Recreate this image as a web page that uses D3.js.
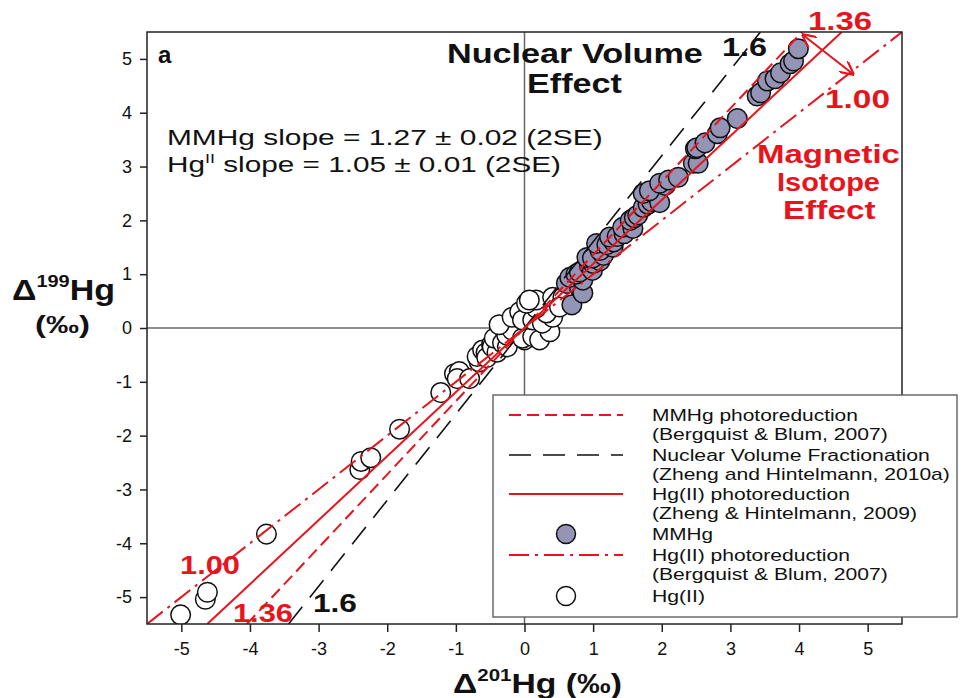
<!DOCTYPE html>
<html><head><meta charset="utf-8">
<script src="https://cdn.jsdelivr.net/npm/d3@7"></script>
<style>body{margin:0;background:#fff;} text{font-family:"Liberation Sans",Arial,sans-serif;}</style>
</head><body>
<svg id="chart" width="961" height="698"></svg>
<script>
// ---- data ----
const xTicks = [-5,-4,-3,-2,-1,0,1,2,3,4,5];
const yTicks = [-5,-4,-3,-2,-1,0,1,2,3,4,5];
const mmhgPoints = [
 [0.69,0.43],[0.61,0.83],[0.70,0.94],[0.80,0.76],[0.85,0.65],[0.66,0.94],[0.85,0.89],[0.75,1.00],
 [0.80,1.04],[0.95,1.15],[0.99,1.07],[1.00,1.20],[1.10,1.25],[0.91,1.31],[0.99,1.30],[1.15,1.35],
 [1.10,1.44],[1.05,1.57],[1.29,1.50],[1.20,1.55],[1.30,1.60],[1.24,1.69],[1.35,1.70],[1.45,1.75],
 [1.43,1.87],[1.58,1.85],[1.54,2.00],[1.60,2.05],[1.65,2.10],[1.73,2.24],[1.80,2.30],[1.85,2.35],
 [1.97,2.33],[1.73,2.50],[1.82,2.55],[2.05,2.65],[1.97,2.69],[2.10,2.75],[2.24,2.80],[2.46,3.06],
 [2.53,3.06],[2.49,3.33],[2.51,3.35],[2.63,3.44],[2.81,3.61],[2.85,3.72],[3.10,3.89],[3.39,4.31],
 [3.44,4.37],[3.54,4.59],[3.65,4.63],[3.73,4.74],[3.87,4.91],[3.92,4.96],[3.99,5.19]
];
const hg2Points = [
 [-5.01,-5.33],[-4.65,-5.04],[-4.62,-4.91],[-3.76,-3.83],[-2.40,-2.63],[-2.38,-2.48],[-2.24,-2.41],
 [-1.82,-1.88],[-1.22,-1.20],[-1.02,-0.85],[-0.95,-0.81],[-0.98,-0.94],[-0.80,-0.94],[-0.66,-0.63],
 [-0.69,-0.53],[-0.61,-0.41],[-0.56,-0.46],[-0.55,-0.55],[-0.48,-0.31],[-0.47,-0.35],[-0.40,-0.45],
 [-0.44,-0.19],[-0.32,-0.28],[-0.25,-0.35],[-0.26,-0.13],[-0.18,-0.04],[0.00,-0.22],[-0.03,-0.19],
 [0.12,-0.16],[0.22,-0.22],[0.37,-0.07],[-0.37,0.06],[-0.18,0.20],[-0.07,0.30],[-0.03,0.15],
 [0.12,0.15],[0.26,0.09],[0.41,0.20],[0.32,0.28],[0.17,0.37],[0.03,0.46],[0.17,0.52],[0.07,0.52],
 [0.41,0.57],[0.56,0.57],[0.51,0.39]
];
const lineNames = ["MMHg photoreduction","Nuclear Volume Fractionation","Hg(II) photoreduction Z&H","Hg(II) photoreduction B&B"];
const lineSlopes = [1.36, 1.6, 1.19, 1.00];
const lineColors = ["#e8141c","#111111","#e8141c","#e8141c"];
const lineDashes = ["12,6","22,12",null,"20,6,3,6"];
const legendLabels = [
 ["MMHg photoreduction","(Bergquist & Blum, 2007)"],
 ["Nuclear Volume Fractionation","(Zheng and Hintelmann, 2010a)"],
 ["Hg(II) photoreduction","(Zheng & Hintelmann, 2009)"],
 ["MMHg"],
 ["Hg(II) photoreduction","(Bergquist & Blum, 2007)"],
 ["Hg(II)"]
];
const legendWidths = [[206,236],[278,298],[198,265],[61],[198,236],[53]];

// ---- chart ----
const svg = d3.select("#chart");
const L=147, R=902, T=32, B=624;
const x = d3.scaleLinear().domain([-5.5,5.5]).range([L,R]);
const y = d3.scaleLinear().domain([-5.5,5.5]).range([B,T]);
const mmhgFill = "#9394b6";
const RED = "#e8141c";

// stretch a text horizontally to a target width around a pivot x
function fit(t, target, pivot){
  const bb = t.node().getBBox();
  const k = target / bb.width;
  t.attr("transform",`translate(${pivot},0) scale(${k},1) translate(${-pivot},0)`);
  return t;
}

svg.append("clipPath").attr("id","clip").append("rect")
  .attr("x",L).attr("y",T).attr("width",R-L).attr("height",B-T);

// zero lines
svg.append("line").attr("x1",x(0)).attr("x2",x(0)).attr("y1",T).attr("y2",B).attr("stroke","#666").attr("stroke-width",1.5);
svg.append("line").attr("x1",L).attr("x2",R).attr("y1",y(0)).attr("y2",y(0)).attr("stroke","#666").attr("stroke-width",1.5);

const plot = svg.append("g").attr("clip-path","url(#clip)");

// points
plot.selectAll("circle.hg2").data(hg2Points).join("circle").attr("class","hg2")
  .attr("cx",d=>x(d[0])).attr("cy",d=>y(d[1])).attr("r",9.8)
  .attr("fill","#fff").attr("stroke","#111").attr("stroke-width",1.5);
plot.selectAll("circle.mm").data(mmhgPoints).join("circle").attr("class","mm")
  .attr("cx",d=>x(d[0])).attr("cy",d=>y(d[1])).attr("r",9.8)
  .attr("fill",mmhgFill).attr("stroke","#111").attr("stroke-width",1.5);

// reference lines through origin
lineSlopes.forEach((s,i)=>{
  const ln = plot.append("line")
    .attr("x1",x(-5.5/s)).attr("y1",y(-5.5)).attr("x2",x(5.5/s)).attr("y2",y(5.5))
    .attr("stroke",lineColors[i]).attr("stroke-width",i===1?1.6:2);
  if(lineDashes[i]) ln.attr("stroke-dasharray",lineDashes[i]);
});

// frame
svg.append("rect").attr("x",L).attr("y",T).attr("width",R-L).attr("height",B-T)
  .attr("fill","none").attr("stroke","#222").attr("stroke-width",1.5);

// axes
const yAxis = svg.append("g").attr("transform",`translate(${L},0)`)
  .call(d3.axisLeft(y).tickValues(yTicks).tickSize(7).tickPadding(8).tickFormat(d3.format("d")));
const xAxis = svg.append("g").attr("transform",`translate(0,${B})`)
  .call(d3.axisBottom(x).tickValues(xTicks).tickSize(8).tickPadding(10).tickFormat(d3.format("d")));
[yAxis,xAxis].forEach(a=>{
  a.select(".domain").remove();
  a.selectAll(".tick line").attr("stroke","#222").attr("stroke-width",1.5);
  a.selectAll("text").attr("font-size",18).attr("fill","#111")
   .style("font-family","Liberation Sans, Arial, sans-serif");
});
yAxis.selectAll("text").text(d=>d<0?"-"+Math.abs(d):d);
xAxis.selectAll("text").text(d=>d<0?"-"+Math.abs(d):d);

// axis titles
const yt = svg.append("text").attr("x",12).attr("y",300).attr("font-size",29).attr("font-weight","bold").attr("fill","#111");
yt.append("tspan").text("Δ");
yt.append("tspan").attr("dy",-13).attr("font-size",17).text("199");
yt.append("tspan").attr("dy",13).text("Hg");
fit(yt,103,12);
fit(svg.append("text").attr("x",35).attr("y",333).attr("font-size",23).attr("font-weight","bold").attr("fill","#111").text("(‰)"),55,35);
const xt = svg.append("text").attr("x",453).attr("y",693).attr("font-size",28).attr("font-weight","bold").attr("fill","#111");
xt.append("tspan").text("Δ");
xt.append("tspan").attr("dy",-12).attr("font-size",17).text("201");
xt.append("tspan").attr("dy",12).text("Hg (‰)");
fit(xt,169,453);

// annotations
svg.append("text").attr("x",158).attr("y",63).attr("font-size",24).attr("font-weight","bold").attr("fill","#111").text("a");
fit(svg.append("text").attr("x",447).attr("y",63).attr("font-size",27).attr("font-weight","bold").attr("fill","#111").text("Nuclear Volume"),256,447);
fit(svg.append("text").attr("x",527).attr("y",93).attr("font-size",27).attr("font-weight","bold").attr("fill","#111").text("Effect"),95,527);
fit(svg.append("text").attr("x",167).attr("y",145).attr("font-size",21.5).attr("fill","#111").text("MMHg slope = 1.27 ± 0.02 (2SE)"),436,167);
const hgt = svg.append("text").attr("x",167).attr("y",172).attr("font-size",21.5).attr("fill","#111");
hgt.append("tspan").text("Hg");
hgt.append("tspan").attr("dy",-9).attr("font-size",13).text("II");
hgt.append("tspan").attr("dy",9).text(" slope = 1.05 ± 0.01 (2SE)");
fit(hgt,394,167);

fit(svg.append("text").attr("x",722).attr("y",56).attr("font-size",25).attr("font-weight","bold").attr("fill","#111").text("1.6"),45,722);
fit(svg.append("text").attr("x",808).attr("y",30).attr("font-size",25).attr("font-weight","bold").attr("fill",RED).text("1.36"),64,808);
fit(svg.append("text").attr("x",825).attr("y",108).attr("font-size",25).attr("font-weight","bold").attr("fill",RED).text("1.00"),65,825);
[["Magnetic",757,143],["Isotope",777,103],["Effect",783,93]].forEach((m,i)=>{
  fit(svg.append("text").attr("x",m[1]).attr("y",163+i*28).attr("font-size",26).attr("font-weight","bold").attr("fill",RED).text(m[0]),m[2],m[1]);
});
fit(svg.append("text").attr("x",180).attr("y",574).attr("font-size",25).attr("font-weight","bold").attr("fill",RED).text("1.00"),60,180);
fit(svg.append("text").attr("x",233).attr("y",622).attr("font-size",25).attr("font-weight","bold").attr("fill",RED).text("1.36"),60,233);
fit(svg.append("text").attr("x",313).attr("y",612).attr("font-size",25).attr("font-weight","bold").attr("fill","#111").text("1.6"),44,313);

// arrow
const defs = svg.append("defs");
defs.append("marker").attr("id","ah").attr("viewBox","0 0 10 10").attr("refX",9).attr("refY",5)
  .attr("markerWidth",7).attr("markerHeight",7).attr("orient","auto-start-reverse")
  .append("path").attr("d","M0,0 L10,5 L0,10").attr("fill","none").attr("stroke",RED).attr("stroke-width",1.6);
svg.append("line").attr("x1",803).attr("y1",35).attr("x2",853).attr("y2",74)
  .attr("stroke",RED).attr("stroke-width",2)
  .attr("marker-start","url(#ah)").attr("marker-end","url(#ah)");

// legend
const lg = svg.append("g");
lg.append("rect").attr("x",493).attr("y",395).attr("width",464).attr("height",222)
  .attr("fill","#fff").attr("stroke","#555").attr("stroke-width",1.3);
const rowY = [415,455,494,534,555,596];
const legendKinds = ["l0","l1","l2","p0","l3","p1"];
legendLabels.forEach((lab,i)=>{
  const k = legendKinds[i], yy = rowY[i];
  if(k[0]==="l"){
    const li = +k[1];
    const ln = lg.append("line").attr("x1",509).attr("x2",623).attr("y1",yy).attr("y2",yy)
      .attr("stroke",lineColors[li]).attr("stroke-width",li===1?1.6:2);
    if(lineDashes[li]) ln.attr("stroke-dasharray",lineDashes[li]);
  } else {
    lg.append("circle").attr("cx",566).attr("cy",yy).attr("r",9.5)
      .attr("fill",k==="p0"?mmhgFill:"#fff").attr("stroke","#111").attr("stroke-width",1.5);
  }
  lab.forEach((t,j)=>{
    fit(lg.append("text").attr("x",652).attr("y",yy+6+j*19).attr("font-size",16).attr("fill","#111").text(t),legendWidths[i][j],652);
  });
});
</script>
</body></html>
